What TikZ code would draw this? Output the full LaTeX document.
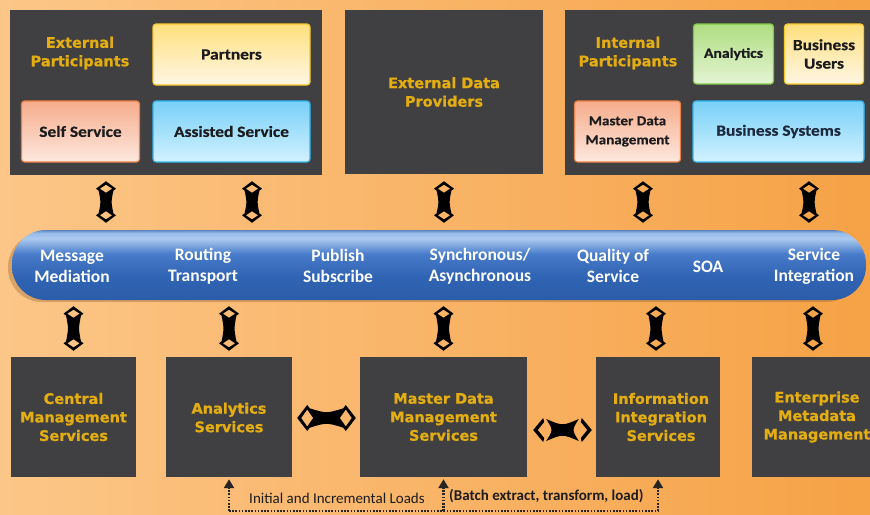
\documentclass[tikz,border=0pt]{standalone}
\usepackage{fontspec}
\setmainfont{Carlito}
\newfontfamily\goldfont{DejaVu Sans}[FakeBold=0.8]
\newfontfamily\boxfont{Carlito}[FakeStretch=1.12,FakeBold=0.6]
\usetikzlibrary{calc,arrows.meta}
\definecolor{bgL}{RGB}{252,198,136}
\definecolor{bgR}{RGB}{246,162,70}
\definecolor{darkbox}{RGB}{64,64,66}
\definecolor{gold}{RGB}{228,174,18}
\definecolor{txtdark}{RGB}{28,28,30}
\definecolor{yelE}{RGB}{250,200,40}
\definecolor{yelT}{RGB}{255,224,125}
\definecolor{yelB}{RGB}{255,246,228}
\definecolor{pchE}{RGB}{236,128,68}
\definecolor{pchT}{RGB}{246,172,140}
\definecolor{pchB}{RGB}{253,232,222}
\definecolor{bluE}{RGB}{45,182,242}
\definecolor{bluT}{RGB}{120,208,248}
\definecolor{bluB}{RGB}{210,242,255}
\definecolor{grnE}{RGB}{128,198,70}
\definecolor{grnT}{RGB}{175,222,128}
\definecolor{grnB}{RGB}{228,244,212}
\definecolor{busB}{RGB}{42,92,168}
\definecolor{busM}{RGB}{48,100,180}
\definecolor{busMM}{RGB}{72,124,202}
\definecolor{busH}{RGB}{172,202,240}
\definecolor{busHH}{RGB}{150,186,232}
\definecolor{busT}{RGB}{92,132,192}
\definecolor{dotc}{RGB}{40,36,34}
\definecolor{shadowc}{RGB}{150,95,40}
\pgfdeclareverticalshading{busshade}{100bp}{color(0bp)=(busB); color(25bp)=(busB); color(42bp)=(busM); color(58bp)=(busMM); color(69bp)=(busH); color(73bp)=(busHH); color(75bp)=(busT); color(100bp)=(busT)}
\begin{document}
\begin{tikzpicture}[x=1pt,y=-1pt,
  wh/.style 2 args={minimum width=#1pt, minimum height=#2pt},
  darkbox/.style={fill=darkbox, inner sep=0pt},
  goldlbl/.style={text=gold, align=center, inner sep=0pt,
    font=\goldfont\bfseries\fontsize{14.5}{18.5}\selectfont},
  lbox/.style={rounded corners=3pt, inner sep=0pt, line width=1.2pt, align=center,
    text=txtdark, font=\boxfont\bfseries\fontsize{15.5}{18.5}\selectfont},
  yel/.style={draw=yelE, top color=yelT, bottom color=yelB},
  pch/.style={draw=pchE, top color=pchT, bottom color=pchB},
  blu/.style={draw=bluE, top color=bluT, bottom color=bluB},
  grn/.style={draw=grnE, top color=grnT, bottom color=grnB},
  bustxt/.style={text=white, align=center, inner sep=0pt,
    font=\bfseries\fontsize{17.5}{21}\selectfont},
  vconn/.style={to path={let \p1=(\tikztostart), \p2=(\tikztotarget) in
    (\x1,\y1) -- (\x1+10pt,\y1-7.5pt) -- (\x1,\y1-15pt) -- (\x1-10pt,\y1-7.5pt) -- cycle
    (\x1,\y1-3.4pt) -- (\x1-6.2pt,\y1-7.5pt) -- (\x1,\y1-11.6pt) -- (\x1+6.2pt,\y1-7.5pt) -- cycle
    (\x1-7.4pt,\y1-9.5pt) -- (\x1,\y1-12.8pt) -- (\x1+7.4pt,\y1-9.5pt)
      .. controls (\x1+5pt,{(\y1+\y2)/2}) .. (\x1+7.4pt,\y2+9.5pt)
      -- (\x1,\y2+12.8pt) -- (\x1-7.4pt,\y2+9.5pt)
      .. controls (\x1-5pt,{(\y1+\y2)/2}) .. (\x1-7.4pt,\y1-9.5pt) -- cycle
    (\x1,\y2) -- (\x1-10pt,\y2+7.5pt) -- (\x1,\y2+15pt) -- (\x1+10pt,\y2+7.5pt) -- cycle
    (\x1,\y2+3.4pt) -- (\x1+6.2pt,\y2+7.5pt) -- (\x1,\y2+11.6pt) -- (\x1-6.2pt,\y2+7.5pt) -- cycle
  }},
  hconn/.style={to path={let \p1=(\tikztostart), \p2=(\tikztotarget) in
    (\x1,\y1) -- (\x1+10pt,\y1-13pt) -- (\x1+20pt,\y1) -- (\x1+10pt,\y1+13pt) -- cycle
    (\x1+4pt,\y1) -- (\x1+10pt,\y1+8.5pt) -- (\x1+16pt,\y1) -- (\x1+10pt,\y1-8.5pt) -- cycle
    (\x1+12.5pt,\y1+9.7pt) -- (\x1+17pt,\y1) -- (\x1+12.5pt,\y1-9.7pt)
      .. controls ({(\x1+\x2)/2},\y1-4.5pt) .. (\x2-12.5pt,\y1-9.7pt)
      -- (\x2-17pt,\y1) -- (\x2-12.5pt,\y1+9.7pt)
      .. controls ({(\x1+\x2)/2},\y1+4.5pt) .. (\x1+12.5pt,\y1+9.7pt) -- cycle
    (\x2-20pt,\y1) -- (\x2-10pt,\y1-13pt) -- (\x2,\y1) -- (\x2-10pt,\y1+13pt) -- cycle
    (\x2-16pt,\y1) -- (\x2-10pt,\y1+8.5pt) -- (\x2-4pt,\y1) -- (\x2-10pt,\y1-8.5pt) -- cycle
  }},
  chconn/.style={to path={let \p1=(\tikztostart), \p2=(\tikztotarget) in
    (\x1+10pt,\y1+12pt) -- (\x1,\y1) -- (\x1+10pt,\y1-12pt) -- (\x1+11pt,\y1-8pt)
      -- (\x1+4.5pt,\y1) -- (\x1+11pt,\y1+8pt) -- cycle
    (\x2-10pt,\y1+12pt) -- (\x2,\y1) -- (\x2-10pt,\y1-12pt) -- (\x2-11pt,\y1-8pt)
      -- (\x2-4.5pt,\y1) -- (\x2-11pt,\y1+8pt) -- cycle
    (\x1+13pt,\y1+11pt) .. controls (\x1+20pt,\y1) .. (\x1+13pt,\y1-11pt)
      .. controls ({(\x1+\x2)/2},\y1-4pt) .. (\x2-13pt,\y1-11pt)
      .. controls (\x2-20pt,\y1) .. (\x2-13pt,\y1+11pt)
      .. controls ({(\x1+\x2)/2},\y1+4pt) .. (\x1+13pt,\y1+11pt) -- cycle
  }},
  conn/.style={fill=black},
  dotline/.style={draw=dotc, line width=2.4pt, dash pattern=on 1.6pt off 1.6pt},
  dotarrow/.style={dotline, -{Triangle[length=9pt,width=10pt]}},
  loadtxt/.style={text=txtdark, inner sep=0pt, font=\fontsize{15}{18}\selectfont}
]
\useasboundingbox (0,0) rectangle (870,514);
\shade[left color=bgL, right color=bgR] (0,0) rectangle (870,514);

% top dark boxes
\node[darkbox, wh={312}{165}] (ep) at (166,92.5) {};
\node[darkbox, wh={198}{164}] (edp) at (444,92) {};
\node[darkbox, wh={310}{165}] (ip) at (720,92.5) {};

\node[goldlbl] (eplbl) at (80,53) {External\\Participants};
\node[goldlbl] (edplbl) at (444,92) {External Data\\Providers};
\node[goldlbl] (iplbl) at (628,53) {Internal\\Participants};

\node[lbox, yel, wh={157}{61}] (partners) at (231.5,54.5) {Partners};
\node[lbox, pch, wh={118}{61}] (self) at (80.5,131.5) {Self Service};
\node[lbox, blu, wh={157}{61}] (assisted) at (231.5,131.5) {Assisted Service};
\node[lbox, grn, wh={80}{60}, font=\boxfont\bfseries\fontsize{14}{17}\selectfont] (analytics) at (733.5,54) {Analytics};
\node[lbox, yel, wh={79}{60}] (busers) at (824,54) {Business\\Users};
\node[lbox, pch, wh={106}{61}, font=\boxfont\bfseries\fontsize{13.5}{19}\selectfont] (mdm) at (627.5,131.5) {Master Data\\Management};
\node[lbox, blu, wh={171}{61}, text={rgb,255:red,30;green,40;blue,60}] (bsys) at (778.5,131.5) {Business Systems};

% bus
\fill[shadowc, opacity=0.35, rounded corners=34pt] (8,233) rectangle (860,302);
\node[shade, shading=busshade, rounded corners=34pt, wh={854}{70}, inner sep=0pt] (bus) at (439,265) {};
\node[bustxt] (b1) at (72,266) {Message\\Mediation};
\node[bustxt] (b2) at (203,266) {Routing\\Transport};
\node[bustxt] (b3) at (338,266) {Publish\\Subscribe};
\node[bustxt] (b4) at (480,266) {Synchronous/\\Asynchronous};
\node[bustxt] (b5) at (613,266) {Quality of\\Service};
\node[bustxt] (b6) at (708,267) {SOA};
\node[bustxt] (b7) at (814,266) {Service\\Integration};

% bottom boxes
\node[darkbox, wh={125}{120}] (cms) at (73.5,417) {};
\node[darkbox, wh={126}{120}] (as) at (229,417) {};
\node[darkbox, wh={167}{120}] (mdms) at (443.5,417) {};
\node[darkbox, wh={124}{120}] (iis) at (658,417) {};
\node[darkbox, wh={130}{120}] (emm) at (817,417) {};

\node[goldlbl] (cmslbl) at (73.5,417) {Central\\Management\\Services};
\node[goldlbl] (aslbl) at (229,417.5) {Analytics\\Services};
\node[goldlbl] (mdmslbl) at (443.5,417) {Master Data\\Management\\Services};
\node[goldlbl] (iislbl) at (661,417) {Information\\Integration\\Services};
\node[goldlbl] (emmlbl) at (817,417) {Enterprise\\Metadata\\Management};

% connector positions
\coordinate (tc1) at (106,0);
\coordinate (tc2) at (252,0);
\coordinate (tc4) at (643,0);
\coordinate (tc5) at (809,0);
\coordinate (bc4) at (656,0);
\coordinate (bc5) at (813,0);

% top connectors
\fill[conn] ([yshift=-6pt]ep.south -| tc1) to[vconn] ([yshift=7pt]bus.north -| tc1);
\fill[conn] ([yshift=-6pt]ep.south -| tc2) to[vconn] ([yshift=7pt]bus.north -| tc2);
\fill[conn] ([yshift=-7pt]edp.south) to[vconn] ([yshift=7pt]bus.north -| edp.south);
\fill[conn] ([yshift=-6pt]ip.south -| tc4) to[vconn] ([yshift=7pt]bus.north -| tc4);
\fill[conn] ([yshift=-6pt]ip.south -| tc5) to[vconn] ([yshift=7pt]bus.north -| tc5);

% bottom connectors
\fill[conn] ([yshift=-6pt]bus.south -| cms.north) to[vconn] ([yshift=6pt]cms.north);
\fill[conn] ([yshift=-6pt]bus.south -| as.north) to[vconn] ([yshift=6pt]as.north);
\fill[conn] ([yshift=-6pt]bus.south -| mdms.north) to[vconn] ([yshift=6pt]mdms.north);
\fill[conn] ([yshift=-6pt]bus.south -| bc4) to[vconn] ([yshift=6pt]iis.north -| bc4);
\fill[conn] ([yshift=-6pt]bus.south -| bc5) to[vconn] ([yshift=6pt]emm.north -| bc5);

% horizontal connectors
\fill[conn] ([shift={(5pt,-1pt)}]as.east) to[hconn] ([shift={(-4pt,-1pt)}]mdms.west);
\fill[conn] ([shift={(6pt,-13pt)}]mdms.east) to[chconn] ([shift={(-4pt,-13pt)}]iis.west);

% loads
\coordinate (base) at (0,511);
\draw[dotline] (as.south |- base) -- (iis.south |- base);
\draw[dotarrow] (as.south |- base) -- ([yshift=-2pt]as.south);
\draw[dotarrow] (mdms.south |- base) -- ([yshift=-2pt]mdms.south);
\draw[dotarrow] (iis.south |- base) -- ([yshift=-2pt]iis.south);
\node[loadtxt] (l1) at (337,498) {Initial and Incremental Loads};
\node[loadtxt, anchor=west, font=\bfseries\fontsize{15}{18}\selectfont] (l2) at (449,496) {(Batch extract, transform, load)};
\end{tikzpicture}
\end{document}
